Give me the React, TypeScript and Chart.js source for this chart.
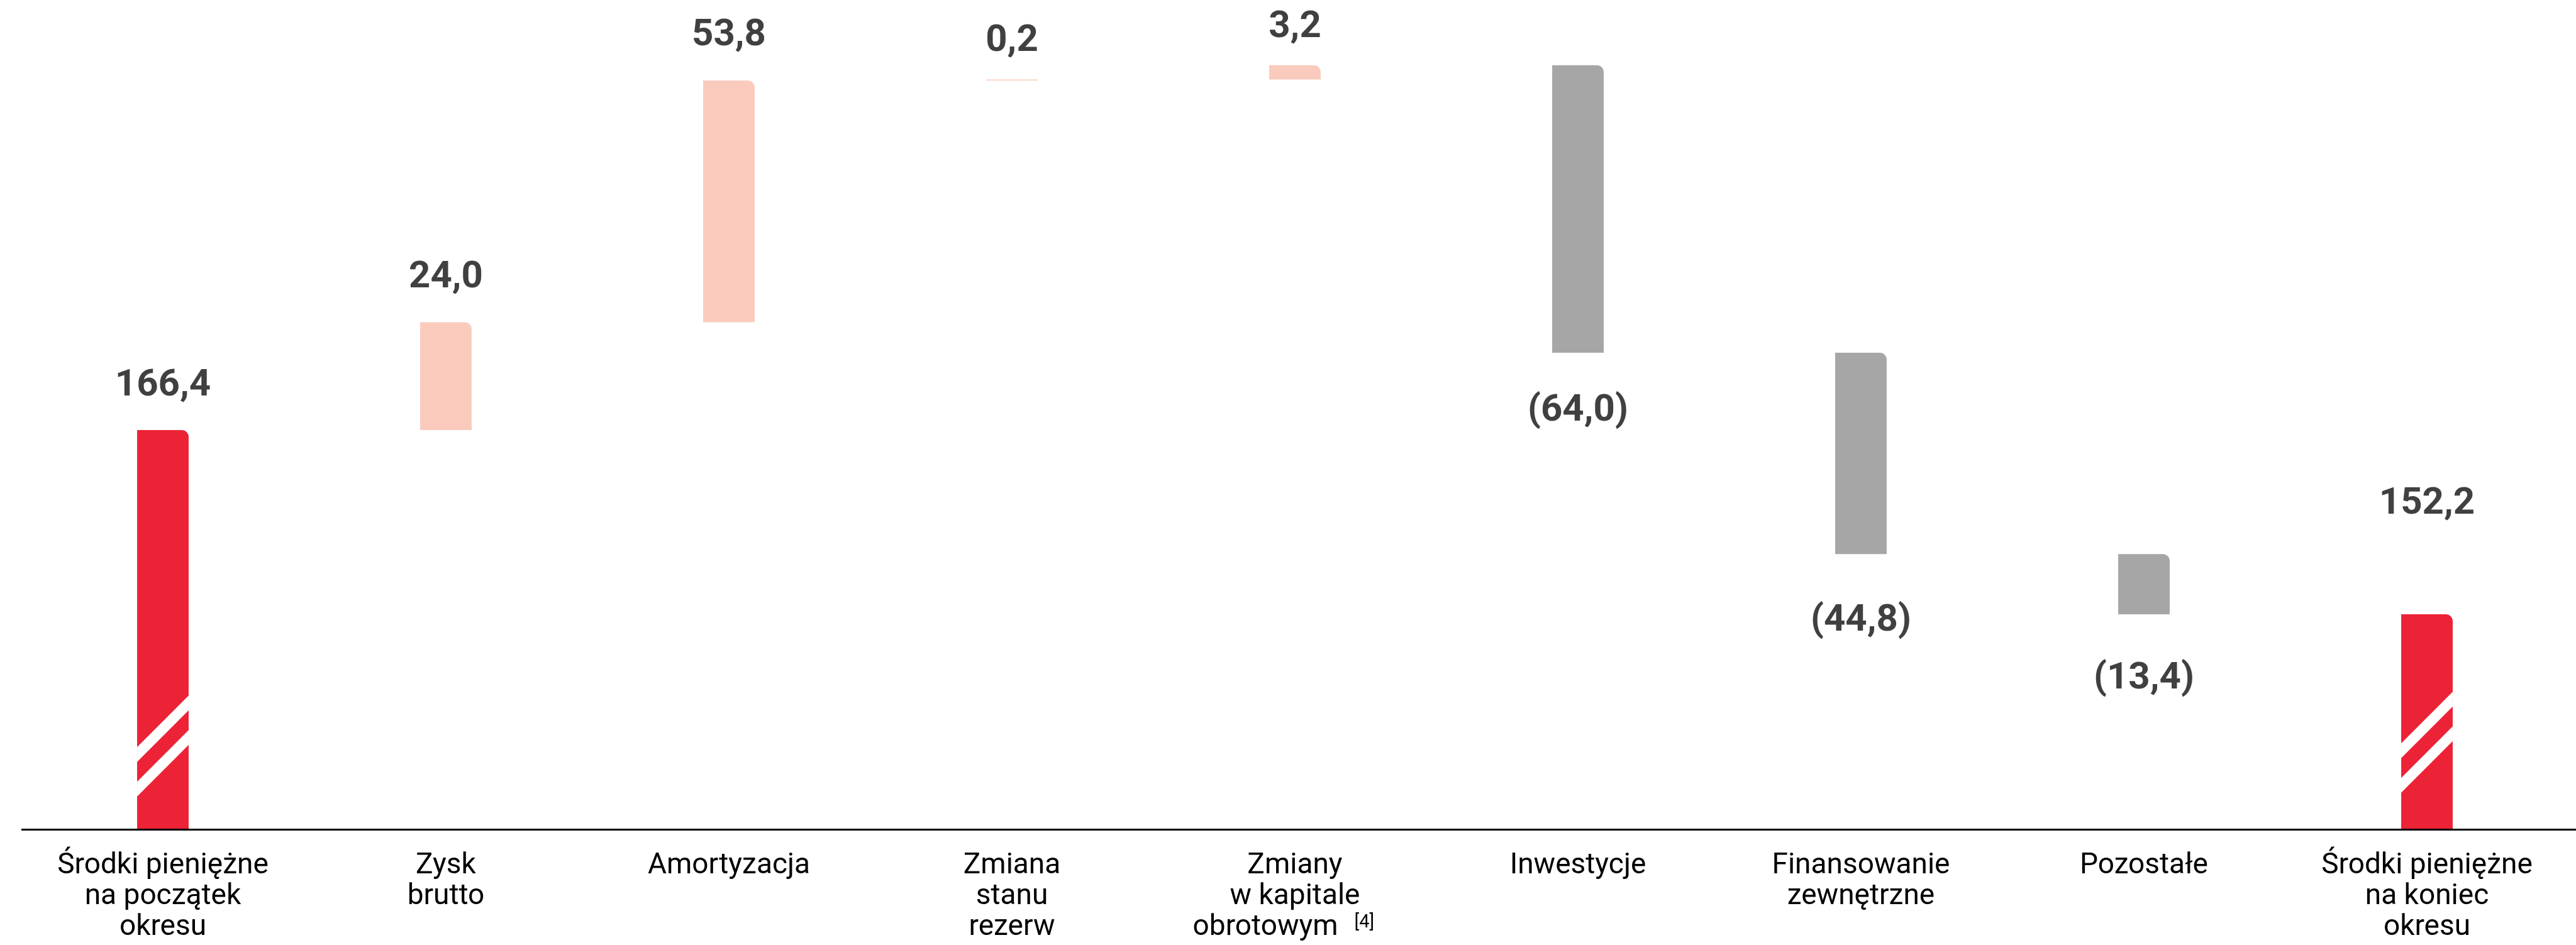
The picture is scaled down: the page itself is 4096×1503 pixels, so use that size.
import React, { useEffect, useRef } from "react";
import { Chart, registerables } from "chart.js";

Chart.register(...registerables);

// ---- data ----
const categories: string[][] = [
  ["Środki pieniężne", "na początek", "okresu"],
  ["Zysk", "brutto"],
  ["Amortyzacja"],
  ["Zmiana", "stanu", "rezerw"],
  ["Zmiany", "w kapitale", "obrotowym"],
  ["Inwestycje"],
  ["Finansowanie", "zewnętrzne"],
  ["Pozostałe"],
  ["Środki pieniężne", "na koniec", "okresu"],
];
const footnotes: string[] = ["", "", "", "", "[4]", "", "", "", ""];
const openingBalance = 166.4;
const changes: number[] = [24.0, 53.8, 0.2, 3.2, -64.0, -44.8, -13.4];
const closingBalance = 152.2;
// broken value axis (bars of the balances are cut, see break marks)
const axisMin = 77.57;
const axisMax = 262.1;

// ---- styles ----
const RED = "#EC2236";
const SALMON = "#FACBBC";
const GRAY = "#A6A6A6";
const LABEL_COLOR = "#404040";
const labelOffsets = [55, 56, 56, 46, 45, 108, 122, 118, 160];
const breakMarkStart: Record<number, number> = { 0: 64, 8: 70 };

// ---- build waterfall from the values ----
const barData: (number | [number, number])[] = [];
const valueLabels: number[] = [];
const kinds: string[] = [];
barData.push(openingBalance);
valueLabels.push(openingBalance);
kinds.push("total");
let running = openingBalance;
for (const c of changes) {
  barData.push([running, running + c]);
  running += c;
  valueLabels.push(c);
  kinds.push(c >= 0 ? "up" : "down");
}
barData.push(running);
valueLabels.push(closingBalance);
kinds.push("total");

const colors = kinds.map((k) => (k === "total" ? RED : k === "up" ? SALMON : GRAY));

const fmt = (v: number) => {
  const s = Math.abs(v).toFixed(1).replace(".", ",");
  return v < 0 ? `(${s})` : s;
};

const tickLines = categories.map((lines, i) =>
  footnotes[i] ? lines.map((l, j) => (j === lines.length - 1 ? l + "\u2003\u2003" : l)) : lines
);

const TICK_FONT_SIZE = 46;
const TICK_LINE_H = 49;
const TICK_PAD = 34;

const overlayPlugin = {
  id: "overlay",
  afterDatasetsDraw(chart: any) {
    const ctx: CanvasRenderingContext2D = chart.ctx;
    const area = chart.chartArea;
    const meta = chart.getDatasetMeta(0);
    ctx.save();

    // break marks on balance bars
    ctx.fillStyle = "#FFFFFF";
    Object.keys(breakMarkStart).forEach((key) => {
      const i = Number(key);
      const el = meta.data[i];
      if (!el) return;
      const p = el.getProps(["x", "width", "base", "y"], true);
      const left = p.x - p.width / 2;
      const right = p.x + p.width / 2;
      const bottom = Math.min(Math.max(p.base, p.y), area.bottom);
      const rise = p.width;
      const thick = 23.5;
      [breakMarkStart[i], breakMarkStart[i] + 55].forEach((off) => {
        const yl = bottom - off;
        const yr = yl - rise;
        ctx.beginPath();
        ctx.moveTo(left, yl - thick / 2);
        ctx.lineTo(right, yr - thick / 2);
        ctx.lineTo(right, yr + thick / 2);
        ctx.lineTo(left, yl + thick / 2);
        ctx.closePath();
        ctx.fill();
      });
    });

    // axis line
    ctx.strokeStyle = "#000000";
    ctx.lineWidth = 3;
    ctx.beginPath();
    ctx.moveTo(area.left, area.bottom + 0.5);
    ctx.lineTo(chart.width, area.bottom + 0.5);
    ctx.stroke();

    // value labels
    ctx.fillStyle = LABEL_COLOR;
    ctx.font = "bold 60px Roboto";
    ctx.textAlign = "center";
    ctx.textBaseline = "alphabetic";
    meta.data.forEach((el: any, i: number) => {
      const p = el.getProps(["x", "y", "base"], true);
      const top = Math.min(p.y, p.base);
      const bottom = Math.min(Math.max(p.y, p.base), area.bottom);
      const v = valueLabels[i];
      const y = kinds[i] === "down" ? bottom + labelOffsets[i] : top - labelOffsets[i];
      ctx.fillText(fmt(v), p.x, y);
    });

    // footnote superscripts on category labels
    const xScale = chart.scales.x;
    ctx.fillStyle = "#000000";
    ctx.textAlign = "left";
    footnotes.forEach((fn, i) => {
      if (!fn) return;
      const lines = tickLines[i];
      const last = lines[lines.length - 1];
      ctx.font = `${TICK_FONT_SIZE}px Roboto`;
      const full = ctx.measureText(last).width;
      const word = ctx.measureText(categories[i][categories[i].length - 1]).width;
      const cx = xScale.getPixelForTick(i);
      const left = cx - full / 2;
      const baseline = xScale.top + TICK_PAD + TICK_LINE_H * (lines.length - 1) + TICK_LINE_H / 2 + 15;
      ctx.font = `29px Roboto`;
      ctx.fillText(fn, left + word + 26, baseline - 16);
    });

    ctx.restore();
  },
};

export default function App() {
  const ref = useRef<HTMLCanvasElement | null>(null);
  useEffect(() => {
    if (!ref.current) return;
    const chart = new Chart(ref.current, {
      type: "bar",
      data: {
        labels: categories.map((c) => c.join(" ")),
        datasets: [
          {
            data: barData as any,
            backgroundColor: colors,
            borderWidth: 0,
            borderSkipped: false,
            borderRadius: { topLeft: 0, topRight: 11, bottomLeft: 0, bottomRight: 0 },
            barPercentage: 0.182,
            categoryPercentage: 1,
          },
        ],
      },
      options: {
        animation: false,
        responsive: false,
        devicePixelRatio: 1,
        layout: { padding: { left: 34, right: 12, top: 0, bottom: 0 } },
        plugins: { legend: { display: false }, tooltip: { enabled: false } },
        scales: {
          x: {
            grid: { display: false, drawTicks: false },
            border: { display: false },
            ticks: {
              autoSkip: false,
              maxRotation: 0,
              minRotation: 0,
              padding: TICK_PAD,
              color: "#000000",
              font: { family: "Roboto", size: TICK_FONT_SIZE, lineHeight: TICK_LINE_H / TICK_FONT_SIZE },
              callback: (_v: any, i: number) => tickLines[i],
            },
            afterFit: (s: any) => {
              s.height = 184;
            },
          },
          y: { display: false, min: axisMin, max: axisMax },
        },
      },
      plugins: [overlayPlugin],
    });
    return () => chart.destroy();
  }, []);
  return (
    <div style={{ position: "fixed", left: 0, top: 0, width: 4096, height: 1503, background: "#fff" }}>
      <canvas ref={ref} width={4096} height={1503} style={{ display: "block" }} />
    </div>
  );
}
